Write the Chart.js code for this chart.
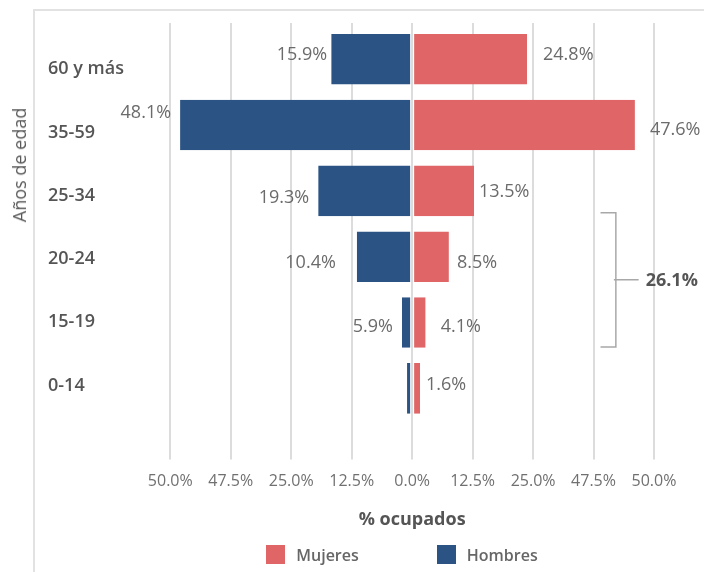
<!DOCTYPE html>
<html lang="es"><head><meta charset="utf-8">
<script src="https://cdn.jsdelivr.net/npm/chart.js@4.4.1/dist/chart.umd.min.js"></script>
<style>
html,body{margin:0;padding:0;background:#fff;}
#wrap{position:relative;width:704px;height:572px;overflow:hidden;}
#frame{position:absolute;left:33px;top:9px;width:720px;height:620px;border-left:2px solid #e2e2e2;border-top:2px solid #e2e2e2;}
#c{position:absolute;left:0;top:0;}
#ytitle{position:absolute;left:19px;top:165px;transform:translate(-50%,-50%) rotate(-90deg);font:500 18px "Open Sans";color:#595959;white-space:nowrap;}
#legend{position:absolute;left:50px;top:545px;width:704px;height:19px;display:flex;justify-content:center;align-items:center;gap:78px;font:600 16px "Open Sans";color:#666;}
#legend .item{display:flex;align-items:center;}
#legend .box{width:19px;height:19px;margin-right:11px;}
</style></head>
<body>
<div id="wrap">
  <div id="frame"></div>
  <canvas id="c" width="704" height="572"></canvas>
  <div id="ytitle">Años de edad</div>
  <div id="legend"></div>
</div>
<script>
// ---- data ----
const categories = ['60 y más', '35-59', '25-34', '20-24', '15-19', '0-14'];
// bar lengths as drawn (axis units)
const hombresBar = [17.4, 49.9, 20.2, 11.9, 2.2, 1.1];
const mujeresBar = [24.7, 47.9, 13.3, 7.9, 2.9, 1.7];
// printed percentages
const hombresLabel = [15.9, 48.1, 19.3, 10.4, 5.9, null];
const mujeresLabel = [24.8, 47.6, 13.5, 8.5, 4.1, 1.6];
const xTickLabels = ['50.0%', '47.5%', '25.0%', '12.5%', '0.0%', '12.5%', '25.0%', '47.5%', '50.0%'];
const seriesNames = ['Mujeres', 'Hombres'];
const bracketFrom = 2, bracketTo = 4; // categories summed in the bracket (Mujeres)

// ---- style ----
const colMujeres = '#df6567';
const colHombres = '#2b5384';
const labelOffsets = {
  Hombres: [[-4,-5.5],[-9,-13.6],[-9,5.4],[-21,4.4],[-9,2.5],null],
  Mujeres: [[16,-5.5],[15,3.5],[5,-0.5],[8,4.4],[15,2.5],[6,-4.5]]
};

const bracketValue = mujeresLabel.slice(bracketFrom, bracketTo + 1).reduce((a, b) => a + b, 0);
const integerTicks = (s) => { s.ticks = categories.map((c, i) => ({ value: i })); };

const valueLabels = {
  id: 'valueLabels',
  afterDatasetsDraw(chart) {
    const ctx = chart.ctx;
    ctx.save();
    ctx.font = '400 18px "Open Sans"';
    ctx.fillStyle = '#6b6b6b';
    ctx.textBaseline = 'alphabetic';
    chart.data.datasets.forEach((ds, di) => {
      const meta = chart.getDatasetMeta(di);
      const labels = ds.label === 'Hombres' ? hombresLabel : mujeresLabel;
      const offs = labelOffsets[ds.label];
      meta.data.forEach((el, i) => {
        const v = labels[i];
        if (v === null || v === undefined || !offs[i]) return;
        ctx.textAlign = ds.label === 'Hombres' ? 'right' : 'left';
        ctx.fillText(v.toFixed(1) + '%', el.x + offs[i][0], el.y + offs[i][1] + 6.5);
      });
    });
    // bracket annotation
    const xs = chart.scales.x, ys = chart.scales.y;
    const top = ys.getPixelForValue(bracketFrom + 0.333);
    const bot = ys.getPixelForValue(bracketTo + 0.37);
    const mid = (top + bot) / 2;
    const xl = xs.getPixelForValue(40.5), xv = xs.getPixelForValue(43.8), xr = xs.getPixelForValue(48.7);
    ctx.strokeStyle = '#a8a8a8';
    ctx.lineWidth = 1.5;
    ctx.beginPath();
    ctx.moveTo(xl, top); ctx.lineTo(xv, top); ctx.lineTo(xv, bot); ctx.lineTo(xl, bot);
    ctx.moveTo(xv - 2, mid); ctx.lineTo(xr, mid);
    ctx.stroke();
    ctx.font = '700 18px "Open Sans"';
    ctx.fillStyle = '#555';
    ctx.textAlign = 'left';
    ctx.fillText(bracketValue.toFixed(1) + '%', xs.getPixelForValue(50.2), mid + 6.5);
    ctx.restore();
  }
};

const chart = new Chart(document.getElementById('c'), {
  type: 'bar',
  data: {
    datasets: [
      { label: seriesNames[0], data: mujeresBar.map((v, i) => ({ x: v, y: i })), backgroundColor: colMujeres,
        borderColor: '#ffffff', borderWidth: {left: 1, right: 0, top: 0, bottom: 0}, borderSkipped: false,
        barPercentage: 0.768, categoryPercentage: 1, grouped: false, yAxisID: 'y' },
      { label: seriesNames[1], data: hombresBar.map((v, i) => ({ x: -v, y: i })), backgroundColor: colHombres,
        borderColor: '#ffffff', borderWidth: {left: 0, right: 1, top: 0, bottom: 0}, borderSkipped: false,
        barPercentage: 0.768, categoryPercentage: 1, grouped: false, yAxisID: 'y' }
    ]
  },
  options: {
    indexAxis: 'y',
    responsive: false,
    animation: false,
    devicePixelRatio: 1,
    layout: { padding: { top: 23, bottom: 41, left: 48, right: 50 } },
    plugins: { legend: { display: false }, tooltip: { enabled: false } },
    scales: {
      x: {
        type: 'linear',
        min: -52, max: 52,
        offset: false,
        border: { display: false },
        grid: { offset: false, color: '#dcdcdc', lineWidth: 2, drawTicks: true, tickLength: 38, tickColor: '#dcdcdc', tickWidth: 2 },
        ticks: { stepSize: 13, padding: 12, maxRotation: 0, autoSkip: false,
          font: { family: 'Open Sans', size: 16 }, color: '#707070',
          callback: (v, i) => xTickLabels[i] },
        title: { display: true, text: '% ocupados', font: { family: 'Open Sans', size: 18, weight: '700' },
          color: '#555', padding: { top: 6.7, bottom: 0 } }
      },
      y: {
        type: 'linear',
        position: 'left',
        offset: false,
        reverse: true,
        min: -0.55, max: 5.503,
        afterBuildTicks: integerTicks,
        border: { display: false },
        grid: { display: false, offset: false },
        ticks: { display: false },
        afterFit: (s) => { s.width = 0; }
      },
      yLabels: {
        type: 'linear',
        position: 'left',
        offset: false,
        reverse: true,
        min: -0.732, max: 5.569,
        border: { display: false },
        grid: { display: false, offset: false },
        afterBuildTicks: integerTicks,
        ticks: { crossAlign: 'far', autoSkip: false, font: { family: 'Open Sans', size: 18, weight: '600' }, color: '#555',
          callback: (v) => categories[v] },
        afterFit: (s) => { s.width = 122.3; }
      }
    }
  },
  plugins: [valueLabels]
});

// HTML legend built from the datasets
const leg = document.getElementById('legend');
chart.data.datasets.forEach(ds => {
  const it = document.createElement('span'); it.className = 'item';
  const b = document.createElement('span'); b.className = 'box'; b.style.background = ds.backgroundColor;
  const t = document.createElement('span'); t.textContent = ds.label;
  it.appendChild(b); it.appendChild(t); leg.appendChild(it);
});
</script>
</body></html>
